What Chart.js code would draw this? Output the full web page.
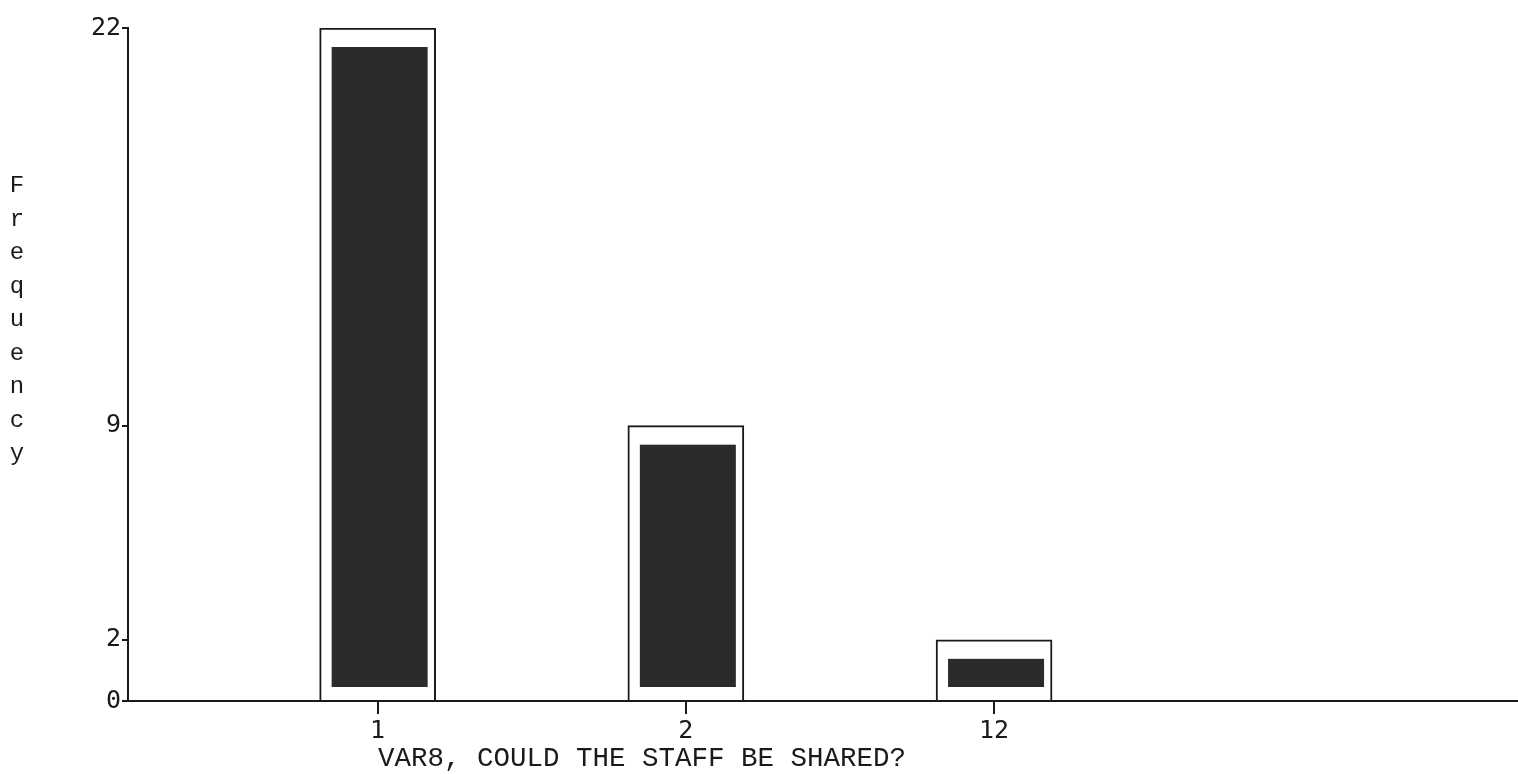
<!DOCTYPE html>
<html>
<head>
<meta charset="utf-8">
<script src="https://cdn.jsdelivr.net/npm/chart.js@4.4.1/dist/chart.umd.min.js"></script>
<style>
  html, body { margin: 0; padding: 0; background: #fff; }
  #wrap { width: 1518px; height: 774px; }
</style>
</head>
<body>
<div id="wrap"><canvas id="myChart" width="1518" height="774"></canvas></div>
<script>
// data
const categories = ['1', '2', '12'];
const frequencies = [22, 9, 2];
const yTicks = [0, 2, 9, 22];
const yTitle = 'Frequency';
const xTitle = 'VAR8, COULD THE STAFF BE SHARED?';

// dark block drawn inside each white bar
const innerBars = {
    id: 'innerBars',
    afterDatasetsDraw(chart) {
        const ctx = chart.ctx;
        const meta = chart.getDatasetMeta(0);
        ctx.save();
        ctx.fillStyle = '#2b2b2b';
        meta.data.forEach(bar => {
            const left = bar.x - bar.width / 2 + 12;
            const right = bar.x + bar.width / 2 - 8;
            const top = bar.y + 19;
            const bottom = bar.base - 13;
            ctx.fillRect(left, top, right - left, bottom - top);
        });
        ctx.restore();
    }
};

// x tick marks, stacked letters on the left and the x title
const labels = {
    id: 'labels',
    afterDraw(chart) {
        const ctx = chart.ctx;
        const xs = chart.scales.x;
        ctx.save();
        ctx.strokeStyle = '#1a1a1a';
        ctx.lineWidth = 2;
        categories.forEach((c, i) => {
            const px = Math.round(xs.getPixelForValue(i + 1));
            ctx.beginPath();
            ctx.moveTo(px, xs.top);
            ctx.lineTo(px, xs.top + 13);
            ctx.stroke();
        });
        ctx.fillStyle = '#1a1a1a';
        ctx.textAlign = 'center';
        ctx.textBaseline = 'middle';
        ctx.font = '24px "Liberation Mono"';
        yTitle.split('').forEach((ch, i) => {
            ctx.fillText(ch, 17, 186 + i * 33.5);
        });
        ctx.font = '27.5px "Liberation Mono"';
        ctx.fillText(xTitle, 642, 759);
        ctx.restore();
    }
};

const chartOne = document.getElementById('myChart');
new Chart(chartOne, {
    type: 'bar',
    data: {
        datasets: [{
            data: frequencies.map((v, i) => ({ x: i + 1, y: v })),
            backgroundColor: '#fff',
            borderColor: '#1a1a1a',
            borderWidth: 2,
            barThickness: 116
        }]
    },
    plugins: [innerBars, labels],
    options: {
        responsive: false,
        animation: false,
        layout: { padding: { top: 28, right: 0, left: 0, bottom: 0 } },
        plugins: {
            legend: { display: false },
            tooltip: { enabled: false }
        },
        scales: {
            x: {
                type: 'linear',
                offset: false,
                min: 0.19,
                max: 4.7,
                afterBuildTicks: scale => {
                    scale.ticks = categories.map((c, i) => ({ value: i + 1 }));
                },
                afterFit: scale => { scale.height = 73; },
                ticks: {
                    callback: v => categories[v - 1],
                    color: '#1a1a1a',
                    font: { family: 'DejaVu Sans Mono', size: 25 },
                    padding: 7,
                    maxRotation: 0
                },
                grid: { display: false },
                border: { display: true, color: '#1a1a1a', width: 2 }
            },
            y: {
                min: 0,
                max: 22,
                afterBuildTicks: scale => {
                    scale.ticks = yTicks.map(v => ({ value: v }));
                },
                afterFit: scale => { scale.width = 128; },
                ticks: {
                    color: '#1a1a1a',
                    font: { family: 'DejaVu Sans Mono', size: 25 },
                    padding: 1
                },
                grid: { drawOnChartArea: false, drawTicks: true, tickLength: 6, color: '#1a1a1a', lineWidth: 2 },
                border: { color: '#1a1a1a', width: 2 }
            }
        }
    }
});
</script>
</body>
</html>
